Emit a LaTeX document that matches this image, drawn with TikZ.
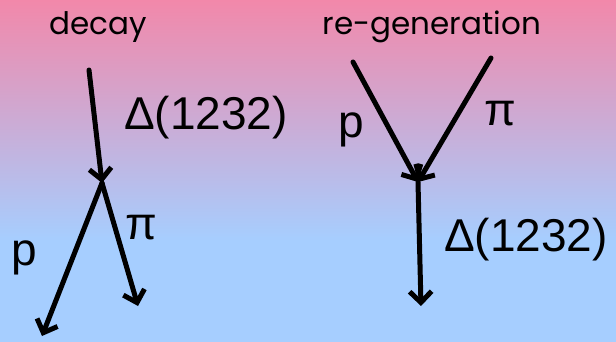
\documentclass[tikz,border=0pt]{standalone}
\usepackage{fontspec}
\setmainfont{Liberation Sans}
\newfontfamily\headfont{Poppins}
\usetikzlibrary{arrows.meta}

\definecolor{toppink}{RGB}{242,136,170}
\definecolor{midlilac}{RGB}{202,180,226}
\definecolor{lowblue}{RGB}{166,206,255}

\begin{document}
\begin{tikzpicture}[
  x=1pt, y=-1pt,
  heading/.style={font=\headfont\fontsize{31}{34}\selectfont},
  particle/.style={font=\fontsize{46}{50}\selectfont},
  line/.style={line width=5pt, line cap=round},
  arrow/.style={line, -{Straight Barb[length=11pt,width=22pt,line width=5pt]}}
]
% background
\fill[lowblue] (0,240) rectangle (616,342);
\shade[top color=toppink, middle color=midlilac, bottom color=lowblue] (0,0) rectangle (616,241);
\useasboundingbox (0,0) rectangle (616,342);

% decay
\node[heading] (decay) at (98,27) {decay};
\coordinate (deltain) at (89,70);
\coordinate (vdecay) at (102,183);
\coordinate (pout) at (42,336);
\coordinate (piout) at (138,306);
\draw[arrow] (deltain) -- (vdecay);
\draw[arrow] (vdecay) -- (pout);
\draw[arrow] (vdecay) -- (piout);
\node[particle] (deltaA) at (206,118) {Δ(1232)};
\node[particle] (pA) at (24,258) {p};
\node[particle] (piA) at (141,228) {π};

% re-generation
\node[heading] (regen) at (432,27) {re-generation};
\coordinate (pin) at (353,62);
\coordinate (piin) at (491,58);
\coordinate (vregen) at (418,182);
\coordinate (deltaout) at (421,306);
\draw[arrow] (pin) -- (vregen);
\draw[arrow] (piin) -- (vregen);
\draw[arrow] (vregen) -- (deltaout);
\node[particle] (pB) at (351,130) {p};
\node[particle] (piB) at (500,114) {π};
\node[particle] (deltaB) at (526,240) {Δ(1232)};
\end{tikzpicture}
\end{document}
